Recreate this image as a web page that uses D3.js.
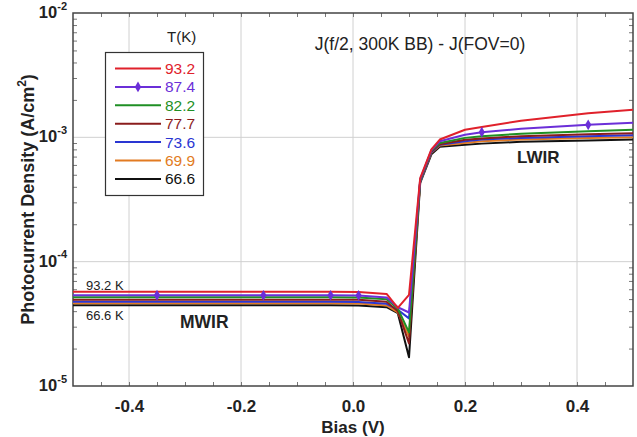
<!DOCTYPE html>
<html>
<head>
<meta charset="utf-8">
<script src="https://cdn.jsdelivr.net/npm/d3@7/dist/d3.min.js"></script>
<style>
  body { margin: 0; background: #fff; }
  text { font-family: "Liberation Sans", Arial, sans-serif; }
</style>
</head>
<body>
<script>
// bias points (V) shared by all curves
var bias = [-0.5, -0.35, -0.16, -0.04, 0.01, 0.06, 0.08, 0.10, 0.12, 0.14, 0.155, 0.20, 0.23, 0.30, 0.42, 0.50];

// photocurrent density (A/cm2) per temperature
var j932 = [5.73e-5, 5.73e-5, 5.72e-5, 5.72e-5, 5.70e-5, 5.50e-5, 4.25e-5, 5.4e-5, 4.7e-4, 8.0e-4, 9.6e-4, 1.15e-3, 1.21e-3, 1.36e-3, 1.56e-3, 1.67e-3];
var j874 = [5.37e-5, 5.37e-5, 5.36e-5, 5.36e-5, 5.35e-5, 5.15e-5, 4.30e-5, 3.9e-5, 4.6e-4, 7.9e-4, 9.3e-4, 1.05e-3, 1.10e-3, 1.17e-3, 1.26e-3, 1.31e-3];
var j822 = [5.18e-5, 5.18e-5, 5.17e-5, 5.17e-5, 5.16e-5, 4.98e-5, 4.20e-5, 2.7e-5, 4.5e-4, 7.8e-4, 9.0e-4, 0.99e-3, 1.02e-3, 1.07e-3, 1.12e-3, 1.15e-3];
var j777 = [4.95e-5, 4.95e-5, 4.94e-5, 4.94e-5, 4.93e-5, 4.76e-5, 4.00e-5, 2.2e-5, 4.5e-4, 7.7e-4, 8.8e-4, 0.955e-3, 0.98e-3, 1.02e-3, 1.06e-3, 1.08e-3];
var j736 = [4.76e-5, 4.76e-5, 4.75e-5, 4.75e-5, 4.74e-5, 4.58e-5, 4.10e-5, 3.5e-5, 4.4e-4, 7.6e-4, 8.7e-4, 0.93e-3, 0.96e-3, 0.99e-3, 1.02e-3, 1.04e-3];
var j699 = [4.63e-5, 4.63e-5, 4.62e-5, 4.62e-5, 4.61e-5, 4.45e-5, 3.90e-5, 2.5e-5, 4.4e-4, 7.5e-4, 8.6e-4, 0.90e-3, 0.93e-3, 0.96e-3, 0.99e-3, 1.00e-3];
var j666 = [4.47e-5, 4.47e-5, 4.46e-5, 4.46e-5, 4.45e-5, 4.30e-5, 3.85e-5, 1.7e-5, 4.3e-4, 7.3e-4, 8.4e-4, 0.87e-3, 0.89e-3, 0.92e-3, 0.945e-3, 0.96e-3];

var temps  = ["93.2", "87.4", "82.2", "77.7", "73.6", "69.9", "66.6"];
var series = [j932, j874, j822, j777, j736, j699, j666];
var colors = ["#e0212b", "#6b2fd8", "#1f8f24", "#8a1c1c", "#2a36d2", "#e27b22", "#111111"];

// bias values where the 87.4 K curve carries a marker
var markerBias = [-0.35, -0.16, -0.04, 0.01, 0.23, 0.42];

var xTicks = [-0.4, -0.2, 0.0, 0.2, 0.4];
var yTicks = [1e-5, 1e-4, 1e-3, 1e-2];

var W = 637, H = 437;
var pL = 73, pR = 633, pT = 13, pB = 386;

var svg = d3.select("body").append("svg")
    .attr("width", W)
    .attr("height", H);

var x = d3.scaleLinear().domain([-0.5, 0.5]).range([pL, pR]);
var y = d3.scaleLog().domain([1e-5, 1e-2]).range([pB, pT]);

// grid lines
svg.append("g")
    .selectAll("line")
    .data(xTicks)
    .enter().append("line")
        .attr("x1", function(d) { return x(d); })
        .attr("x2", function(d) { return x(d); })
        .attr("y1", pT).attr("y2", pB)
        .attr("stroke", "#d0d0d0").attr("stroke-width", 1);

svg.append("g")
    .selectAll("line")
    .data([1e-4, 1e-3])
    .enter().append("line")
        .attr("x1", pL).attr("x2", pR)
        .attr("y1", function(d) { return y(d); })
        .attr("y2", function(d) { return y(d); })
        .attr("stroke", "#d0d0d0").attr("stroke-width", 1);

// minor ticks, all four sides pointing inward
var xMinor = d3.range(-9, 10).map(function(k) { return k * 0.05; });
var yMinor = [];
[1e-5, 1e-4, 1e-3].forEach(function(dec) {
    for (var k = 2; k <= 9; k++) yMinor.push(dec * k);
});

function noDomain(g) { g.select(".domain").remove(); }

svg.append("g")
    .attr("transform", "translate(0," + pB + ")")
    .call(d3.axisBottom(x).tickValues(xMinor).tickSize(-4).tickFormat(""))
    .call(noDomain);
svg.append("g")
    .attr("transform", "translate(0," + pT + ")")
    .call(d3.axisTop(x).tickValues(xMinor).tickSize(-4).tickFormat(""))
    .call(noDomain);
svg.append("g")
    .attr("transform", "translate(" + pL + ",0)")
    .call(d3.axisLeft(y).tickValues(yMinor).tickSize(-4).tickFormat(""))
    .call(noDomain);
svg.append("g")
    .attr("transform", "translate(" + pR + ",0)")
    .call(d3.axisRight(y).tickValues(yMinor).tickSize(-4).tickFormat(""))
    .call(noDomain);
svg.selectAll(".tick line").attr("stroke", "#777");

// tick labels
var xAxis = svg.append("g")
    .attr("transform", "translate(0," + pB + ")")
    .call(d3.axisBottom(x).tickValues(xTicks).tickSize(0).tickPadding(14)
        .tickFormat(function(d) { return d.toFixed(1); }));
xAxis.select(".domain").remove();
xAxis.selectAll("text")
    .attr("font-size", "17px").attr("font-weight", "bold")
    .attr("fill", "#222")
    .style("font-family", "'Liberation Sans', Arial, sans-serif");

var yAxis = svg.append("g")
    .attr("transform", "translate(" + pL + ",0)")
    .call(d3.axisLeft(y).tickValues(yTicks).tickSize(0).tickPadding(6).tickFormat(""));
yAxis.select(".domain").remove();
yAxis.selectAll(".tick text")
    .attr("font-weight", "bold").attr("fill", "#222")
    .attr("dy", "0.45em")
    .style("font-family", "'Liberation Sans', Arial, sans-serif")
    .each(function(d) {
        var t = d3.select(this);
        t.append("tspan").attr("font-size", "16.5px").text("10");
        t.append("tspan").attr("font-size", "11px").attr("dy", "-0.75em")
            .text(Math.round(Math.log10(d)));
    });

// frame
svg.append("rect")
    .attr("x", pL).attr("y", pT)
    .attr("width", pR - pL).attr("height", pB - pT)
    .attr("fill", "none").attr("stroke", "#444").attr("stroke-width", 1.5);

// curves
var line = d3.line()
    .x(function(d, i) { return x(bias[i]); })
    .y(function(d) { return y(d); });

for (var s = series.length - 1; s >= 0; s--) {
    svg.append("path")
        .datum(series[s])
        .attr("d", line)
        .attr("fill", "none")
        .attr("stroke", colors[s])
        .attr("stroke-width", 2)
        .attr("stroke-linejoin", "round");
}

svg.append("g")
    .selectAll("path")
    .data(markerBias)
    .enter().append("path")
        .attr("d", d3.symbol().type(d3.symbolDiamond).size(34))
        .attr("transform", function(d) {
            var v = j874[bias.indexOf(d)];
            return "translate(" + x(d) + "," + y(v) + ")";
        })
        .attr("fill", colors[1]);

// legend
var lg = svg.append("g");
lg.append("text")
    .attr("x", 167).attr("y", 42)
    .attr("font-size", "15px").attr("fill", "#222")
    .text("T(K)");
lg.append("rect")
    .attr("x", 105.5).attr("y", 52.5)
    .attr("width", 98).attr("height", 143)
    .attr("fill", "#fff").attr("stroke", "#333").attr("stroke-width", 1.2);

temps.forEach(function(t, i) {
    var yy = 68.5 + i * 18.4;
    lg.append("line")
        .attr("x1", 115).attr("x2", 161)
        .attr("y1", yy).attr("y2", yy)
        .attr("stroke", colors[i]).attr("stroke-width", 2);
    lg.append("text")
        .attr("x", 165).attr("y", yy + 5.5)
        .attr("font-size", "15.5px").attr("fill", colors[i])
        .text(t);
});
lg.append("path")
    .attr("d", d3.symbol().type(d3.symbolDiamond).size(34))
    .attr("transform", "translate(138," + (68.5 + 18.4) + ")")
    .attr("fill", colors[1]);

// annotations
svg.append("text")
    .attr("x", 420).attr("y", 50)
    .attr("text-anchor", "middle")
    .attr("font-size", "17.5px").attr("fill", "#222")
    .text("J(f/2, 300K BB) - J(FOV=0)");

svg.append("text")
    .attr("x", 86).attr("y", 290)
    .attr("font-size", "13px").attr("fill", "#222")
    .text("93.2 K");
svg.append("text")
    .attr("x", 86).attr("y", 320)
    .attr("font-size", "13px").attr("fill", "#222")
    .text("66.6 K");

svg.append("text")
    .attr("x", 180).attr("y", 328)
    .attr("font-size", "17.5px").attr("font-weight", "bold").attr("fill", "#222")
    .text("MWIR");
svg.append("text")
    .attr("x", 517).attr("y", 163)
    .attr("font-size", "17px").attr("font-weight", "bold").attr("fill", "#222")
    .text("LWIR");

// axis titles
svg.append("text")
    .attr("x", (pL + pR) / 2).attr("y", 433)
    .attr("text-anchor", "middle")
    .attr("font-size", "17px").attr("font-weight", "bold").attr("fill", "#222")
    .text("Bias  (V)");

var yt = svg.append("text")
    .attr("transform", "translate(34," + ((pT + pB) / 2) + ") rotate(-90)")
    .attr("text-anchor", "middle")
    .attr("font-size", "18px").attr("font-weight", "bold").attr("fill", "#222");
yt.append("tspan").text("Photocurrent Density  (A/cm");
yt.append("tspan").attr("font-size", "12px").attr("dy", "-0.7em").text("2");
yt.append("tspan").attr("dy", "0.45em").text(")");
</script>
</body>
</html>
